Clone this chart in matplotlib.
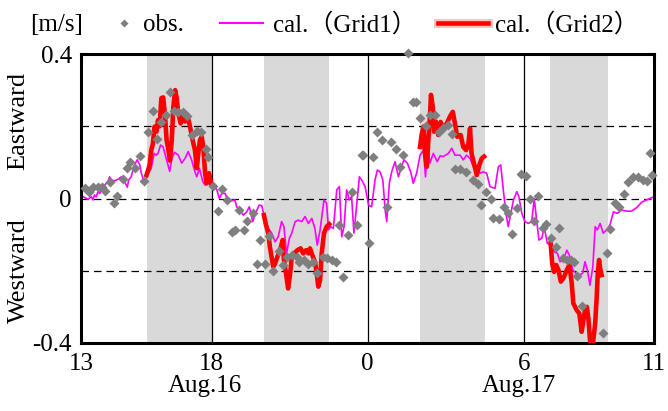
import matplotlib
matplotlib.use('Agg')
import matplotlib.pyplot as plt
import matplotlib.patheffects as pe
from matplotlib.lines import Line2D
import numpy as np

# time axis = hours after 13:00 Aug.16
# observed current speed [m/s]
obs_t = [0.13, 0.30, 0.45, 0.62, 0.78, 0.90, 1.10, 1.26, 1.38, 1.58, 1.74, 1.86, 2.06, 2.25, 2.39,
         2.57, 2.74, 2.89, 3.04, 3.24, 3.40, 3.55, 3.72, 3.89, 4.07, 4.23, 4.43, 4.60, 4.78, 4.87,
         5.07, 5.26, 5.39, 5.58, 5.77, 5.90, 6.07, 6.25, 6.37, 6.58, 6.76, 6.86, 7.05, 7.22, 7.37,
         7.59, 7.76, 7.91, 8.08, 8.27, 8.37, 8.55, 8.72, 8.89, 9.04, 9.27, 9.45, 9.61, 9.78, 9.91,
         10.06, 10.25, 10.38, 10.57, 10.77, 10.83, 11.06, 11.21, 11.37, 11.54, 11.75, 11.88, 12.07, 12.24, 12.37,
         12.56, 12.73, 12.86, 13.01, 13.24, 13.39, 13.59, 13.75, 13.90, 14.10, 14.23, 14.35, 14.55, 14.78, 15.06,
         15.23, 15.35, 15.55, 15.73, 15.83, 16.05, 16.25, 16.40, 16.53, 16.75, 16.88, 17.08, 17.24, 17.39, 17.56,
         17.72, 17.85, 18.03, 18.24, 18.36, 18.52, 18.65, 18.80, 18.93, 19.06, 19.22, 20.03, 20.21, 20.31, 20.50,
         20.66, 20.85, 21.02, 21.21, 21.40, 21.57, 21.72, 21.85, 21.93]
obs_v = [0.028, 0.019, 0.033, 0.033, 0.033, 0.022, 0.047, -0.013, 0.008, 0.053, 0.084, 0.100, 0.085, 0.118, 0.049,
         0.185, 0.243, 0.164, 0.213, 0.231, 0.296, 0.243, 0.240, 0.240, 0.228, 0.176, 0.188, 0.185, 0.136, 0.116,
         0.035, -0.034, 0.025, -0.004, -0.092, -0.087, -0.032, -0.087, -0.061, -0.039, -0.180, -0.115, -0.180, -0.104, -0.200,
         -0.145, -0.184, -0.161, -0.157, -0.161, -0.175, -0.170, -0.180, -0.175, -0.207, -0.163, -0.166, -0.170, -0.175, -0.073,
         -0.217, -0.101, 0.019, -0.073, 0.120, 0.120, -0.122, 0.116, 0.183, 0.162, -0.024, 0.157, 0.136, 0.088, 0.120,
         0.402, 0.266, 0.266, 0.222, 0.200, 0.231, 0.231, 0.185, 0.194, 0.204, 0.179, 0.081, 0.081, 0.074, 0.051,
         0.039, -0.018, 0.019, -0.001, -0.053, -0.058, -0.023, -0.039, -0.098, -0.025, 0.067, 0.063, -0.001, -0.061, 0.008,
         -0.083, -0.071, -0.110, -0.135, -0.083, -0.165, -0.170, -0.170, -0.175, -0.215, -0.298, -0.372, -0.152, -0.084, -0.013,
         -0.023, 0.012, 0.047, 0.059, 0.060, 0.051, 0.049, 0.125, 0.065]

# calculated, Grid1
g1_t = [0.00, 0.06, 0.25, 0.38, 0.44, 0.50, 0.57, 0.63, 0.70, 0.76, 0.89, 1.02, 1.08, 1.15, 1.28, 1.40, 1.53, 1.66,
        1.76, 1.81, 1.91, 1.98, 2.04, 2.14, 2.24, 2.30, 2.36, 2.43, 2.49, 2.58, 2.68, 2.79, 2.87, 2.94, 3.04, 3.13,
        3.22, 3.32, 3.39, 3.47, 3.58, 3.72, 3.85, 3.98, 4.10, 4.23, 4.36, 4.43, 4.53, 4.66, 4.75, 4.87, 5.07, 5.20,
        5.30, 5.39, 5.52, 5.64, 5.77, 5.90, 5.96, 6.09, 6.22, 6.35, 6.45, 6.58, 6.71, 6.83, 6.93, 7.05, 7.18, 7.31,
        7.44, 7.56, 7.69, 7.78, 7.88, 7.99, 8.08, 8.21, 8.33, 8.46, 8.59, 8.72, 8.85, 8.97, 9.06, 9.17, 9.32, 9.42,
        9.49, 9.58, 9.68, 9.81, 9.91, 10.00, 10.09, 10.19, 10.29, 10.38, 10.47, 10.57, 10.68, 10.77, 10.90, 11.03, 11.15, 11.28,
        11.37, 11.47, 11.58, 11.67, 11.73, 11.83, 11.92, 12.05, 12.18, 12.28, 12.39, 12.52, 12.65, 12.75, 12.88, 13.01, 13.14, 13.22,
        13.30, 13.39, 13.52, 13.67, 13.78, 13.90, 14.10, 14.23, 14.35, 14.55, 14.67, 14.80, 14.93, 15.06, 15.19, 15.32, 15.44, 15.57,
        15.70, 15.89, 16.02, 16.11, 16.21, 16.31, 16.40, 16.50, 16.60, 16.73, 16.81, 16.92, 17.04, 17.17, 17.30, 17.40, 17.49, 17.58,
        17.69, 17.78, 17.90, 18.03, 18.16, 18.29, 18.39, 18.52, 18.65, 18.75, 18.88, 19.00, 19.13, 19.26, 19.35, 19.44, 19.54, 19.65,
        19.74, 19.82, 19.93, 20.05, 20.18, 20.31, 20.44, 20.59, 20.76, 20.95, 21.14, 21.34, 21.53, 21.72, 21.94, 22.00]
g1_v = [0.010, 0.005, -0.002, 0.005, -0.004, 0.010, 0.005, 0.019, 0.014, 0.025, 0.037, 0.047, 0.060, 0.051, 0.049, 0.053, 0.060, 0.047,
        0.031, 0.051, 0.060, 0.079, 0.093, 0.107, 0.093, 0.070, 0.056, 0.037, 0.056, 0.070, 0.084, 0.125, 0.120, 0.125, 0.148, 0.144,
        0.120, 0.093, 0.075, 0.110, 0.128, 0.120, 0.098, 0.111, 0.130, 0.107, 0.074, 0.060, 0.084, 0.047, 0.037, 0.042, 0.038, 0.024,
        0.000, 0.014, 0.014, -0.009, -0.006, -0.004, -0.023, -0.032, -0.046, -0.037, -0.023, -0.064, -0.037, -0.018, -0.020, -0.060, -0.083, -0.096,
        -0.120, -0.106, -0.064, -0.078, -0.152, -0.110, -0.096, -0.064, -0.060, -0.064, -0.050, -0.069, -0.055, -0.083, -0.129, -0.087, -0.004, -0.013,
        -0.087, -0.078, -0.083, 0.024, 0.033, -0.106, -0.078, 0.024, -0.004, 0.005, -0.096, -0.023, 0.060, 0.051, 0.033, -0.018, -0.023, 0.051,
        0.079, 0.074, 0.051, -0.032, -0.064, 0.042, 0.074, 0.102, 0.060, 0.084, 0.107, 0.098, 0.074, 0.042, 0.070, 0.120, 0.134, 0.060,
        0.150, 0.098, 0.125, 0.102, 0.118, 0.116, 0.125, 0.139, 0.120, 0.120, 0.107, 0.120, 0.111, 0.088, 0.088, 0.070, 0.074, 0.070,
        0.033, 0.028, 0.088, 0.093, 0.024, -0.041, -0.078, -0.041, -0.004, 0.019, 0.005, -0.041, -0.064, -0.069, -0.064, 0.000, -0.060, -0.115,
        -0.110, -0.078, -0.124, -0.129, -0.147, -0.152, -0.175, -0.170, -0.143, -0.157, -0.198, -0.207, -0.212, -0.207, -0.175, -0.198, -0.240, -0.189,
        -0.078, -0.087, -0.069, -0.096, -0.087, -0.073, -0.037, -0.041, -0.032, -0.035, -0.035, -0.025, -0.010, -0.004, 0.003, 0.005]

# calculated, Grid2 (only inside the shaded periods, nan = gap)
g2_t = [2.50, 2.56, 2.62, 2.68, 2.74, 2.81, 2.88, 2.94, 3.00, 3.07, 3.14, 3.21, 3.27, 3.34, 3.40, 3.47, 3.53, 3.60,
        3.66, 3.72, 3.81, 3.89, 3.98, 4.07, 4.17, 4.27, 4.36, 4.43, 4.49, 4.55, 4.62, 4.68, 4.75, 4.81, 4.90, 4.98, np.nan,
        7.01, 7.09, 7.18, 7.24, 7.30, 7.37, 7.44, 7.53, 7.63, 7.73, 7.78, 7.86, 7.94, 8.02, 8.08, 8.17, 8.30, 8.42,
        8.52, 8.63, 8.72, 8.78, 8.87, 8.97, 9.04, 9.10, 9.17, 9.23, 9.32, 9.42, 9.52, np.nan,
        13.01, 13.07, 13.14, 13.20, 13.27, 13.33, 13.39, 13.43, 13.50, 13.55, 13.62, 13.71, 13.80, 13.90, 14.04, 14.16, 14.27, 14.35,
        14.44, 14.57, 14.67, 14.78, 14.87, 14.93, 14.99, 15.08, 15.19, 15.29, 15.38, 15.47, np.nan,
        18.03, 18.09, 18.16, 18.24, 18.33, 18.42, 18.52, 18.65, 18.75, 18.84, 18.90, 19.03, 19.13, 19.22, 19.29, 19.35, 19.42, 19.48,
        19.54, 19.61, 19.67, 19.74, 19.80, 19.84, 19.89, 19.93, 19.99]
g2_v = [0.065, 0.079, 0.093, 0.134, 0.150, 0.199, 0.185, 0.217, 0.200, 0.278, 0.280, 0.231, 0.162, 0.134, 0.105, 0.162, 0.254, 0.300,
        0.278, 0.236, 0.208, 0.240, 0.213, 0.231, 0.199, 0.162, 0.134, 0.084, 0.125, 0.162, 0.171, 0.143, 0.070, 0.042, 0.070, 0.042, np.nan,
        -0.046, -0.073, -0.096, -0.134, -0.160, -0.189, -0.180, -0.161, -0.143, -0.115, -0.170, -0.207, -0.249, -0.207, -0.161, -0.152, -0.143, -0.138,
        -0.152, -0.143, -0.152, -0.138, -0.157, -0.175, -0.207, -0.244, -0.226, -0.152, -0.096, -0.078, -0.071, np.nan,
        0.143, 0.176, 0.199, 0.125, 0.088, 0.162, 0.227, 0.287, 0.254, 0.185, 0.213, 0.176, 0.212, 0.194, 0.208, 0.227, 0.240, 0.208,
        0.171, 0.176, 0.143, 0.134, 0.153, 0.194, 0.125, 0.098, 0.065, 0.093, 0.111, 0.116, np.nan,
        -0.124, -0.180, -0.203, -0.184, -0.198, -0.230, -0.221, -0.198, -0.184, -0.235, -0.290, -0.309, -0.318, -0.369, -0.337, -0.309, -0.300, -0.332,
        -0.392, -0.410, -0.392, -0.346, -0.272, -0.207, -0.170, -0.193, -0.212]

# shaded periods
band_start = [2.5, 7.0, 13.0, 18.0]
band_end = [5.0, 9.5, 15.5, 20.25]

# 18:00, 0:00, 6:00
hour_lines = [5, 11, 17]
tick_pos = [0, 5, 11, 17, 22]
tick_lab = ['13', '18', '0', '6', '11']
ref_levels = [0.2, 0.0, -0.2]

plt.rcParams['font.family'] = ['Liberation Serif', 'Noto Sans CJK JP']

fig = plt.figure(figsize=(6.68, 4.11), dpi=100)
ax = fig.add_axes([0.122, 0.1655, 0.857, 0.703])

for s, e in zip(band_start, band_end):
    ax.axvspan(s, e, color='#d9d9d9', lw=0, zorder=0)
for x in hour_lines:
    ax.axvline(x, color='black', lw=0.9, zorder=1)
for y in ref_levels:
    ax.axhline(y, color='black', lw=0.9, ls=(0, (6, 4)), zorder=1)

ax.plot(g1_t, g1_v, color='#ff00ff', lw=1.2, zorder=2)
ax.plot(g2_t, g2_v, color='#ff0000', lw=3.3, zorder=3)
ax.plot(obs_t, obs_v, ls='none', marker='D', ms=5.3, color='#7f7f7f', mec='none', zorder=4, clip_on=False)

ax.set_xlim(0, 22)
ax.set_ylim(-0.4, 0.4)
ax.set_xticks(tick_pos, tick_lab)
ax.set_yticks([-0.4, 0, 0.4], ['-0.4', '0', '0.4'])
ax.tick_params(length=0, labelsize=18, pad=7)
for sp in ax.spines.values():
    sp.set_linewidth(2.2)

# date labels under the axis
ax.text(4.75, -0.15, 'Aug.16', transform=ax.get_xaxis_transform(), ha='center', va='center', fontsize=18)
ax.text(16.8, -0.15, 'Aug.17', transform=ax.get_xaxis_transform(), ha='center', va='center', fontsize=18)

fig.text(0.028, 1 - 121 / 411, 'Eastward', rotation=90, ha='center', va='center', fontsize=19)
fig.text(0.028, 1 - 271 / 411, 'Westward', rotation=90, ha='center', va='center', fontsize=19)
fig.text(0.085, 0.939, '[m/s]', ha='center', va='center', fontsize=18)

# legend, one entry at a time so the spacing matches
h_obs = Line2D([], [], ls='none', marker='D', ms=4.5, color='#7f7f7f', mec='none')
h_g1 = Line2D([], [], color='#ff00ff', lw=1.5)
h_g2 = Line2D([], [], color='#ff0000', lw=3.3,
              path_effects=[pe.Stroke(linewidth=6.5, foreground='#ffc0c0'), pe.Normal()])
lg_kw = dict(loc='center left', frameon=False, borderpad=0, borderaxespad=0, fontsize=18)
fig.legend([h_obs], ['obs.'], bbox_to_anchor=(111.5 / 668, 0.939), handlelength=1.0, handletextpad=0.26, **lg_kw)
fig.legend([h_g1], ['cal.（Grid1）'], bbox_to_anchor=(220 / 668, 0.939), handlelength=1.72, handletextpad=0.4, **lg_kw)
fig.legend([h_g2], ['cal.（Grid2）'], bbox_to_anchor=(438 / 668, 0.939), handlelength=2.0, handletextpad=0.28, **lg_kw)

plt.savefig('out.png', dpi=100)
